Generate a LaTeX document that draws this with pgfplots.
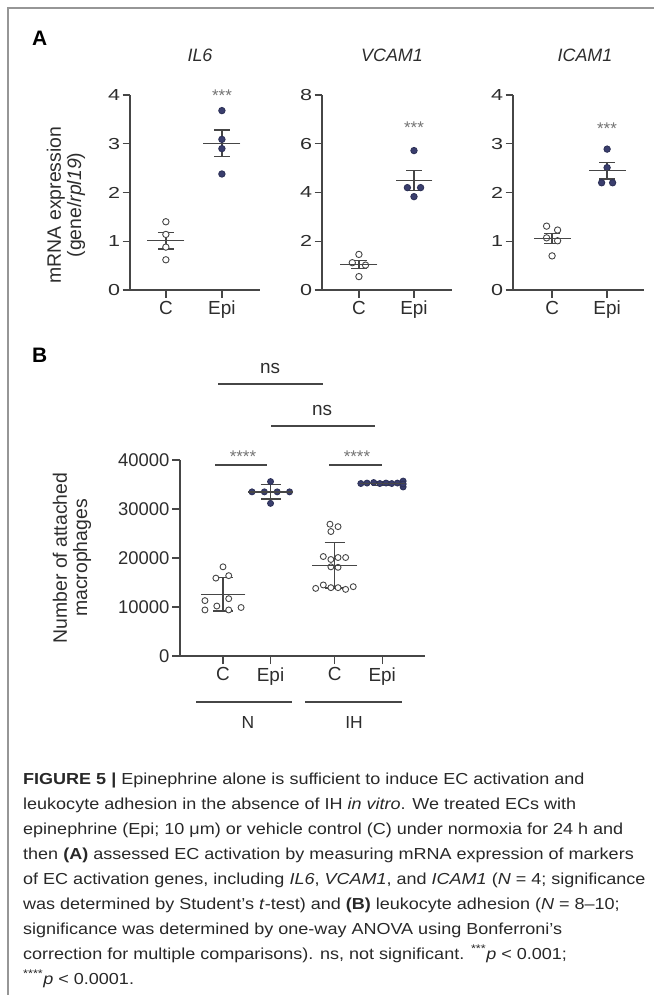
\documentclass[border=0pt]{standalone}
\usepackage{pgfplots}
\pgfplotsset{compat=1.18}
\usepackage{fontspec}
\setmainfont{Liberation Sans}
\definecolor{navy}{RGB}{58,62,110}
\definecolor{axc}{RGB}{70,70,70}
\definecolor{txtc}{RGB}{45,45,45}
\definecolor{framec}{RGB}{150,150,150}
\definecolor{capc}{RGB}{40,40,40}
\newcommand{\fs}[1]{\fontsize{#1}{#1}\selectfont}
\pgfplotsset{
  prism/.style={
    scale only axis, axis x line*=bottom, axis y line*=left,
    axis line style={axc, line width=1.3bp},
    every tick/.style={axc, line width=1.3bp},
    tick align=outside, major tick length=7.5bp,
    /pgf/number format/assume math mode=true,
    clip=false,
    yticklabel style={font=\fs{16}, text=txtc, xshift=1bp},
    yticklabel={\scalebox{1.35}[1]{\pgfmathprintnumber{\tick}}},
    xticklabel style={font=\fs{19}, text=txtc},
  },
  openpts/.style={only marks, mark=*, mark size=3.2pt, mark options={fill=white, draw=axc, line width=0.9bp}},
  fillpts/.style={only marks, mark=*, mark size=3.2pt, mark options={fill=navy, draw=navy!80!black, line width=0.9bp}},
  meanbar/.style 2 args={only marks, mark=-, mark size=#1, mark options={axc, line width=1.3bp},
    error bars/.cd, y dir=both, y explicit, error bar style={axc, line width=1.3bp},
    error mark=|, error mark options={axc, line width=1.3bp, mark size=#2}},
}
\begin{document}
\begin{tikzpicture}
\useasboundingbox (0bp,0bp) rectangle (654bp,-995bp);

% ---------- Panel A: IL6 ----------
\begin{axis}[prism, at={(130bp,-290bp)}, anchor=south west, width=130bp, height=195bp,
  xmin=-0.64, xmax=1.68, ymin=0, ymax=4, ytick={0,1,2,3,4}, xtick={0,1}, xticklabels={C,Epi}]
\addplot[openpts] coordinates {(0,1.40) (0,1.14) (0,0.88) (0,0.62)};
\addplot[fillpts] coordinates {(1,3.68) (1,3.09) (1,2.90) (1,2.38)};
\addplot[meanbar={18.5pt}{8pt}] coordinates {(0,1.01) +- (0,0.17) (1,3.01) +- (0,0.27)};
\end{axis}
% ---------- Panel A: VCAM1 ----------
\begin{axis}[prism, at={(322bp,-290bp)}, anchor=south west, width=130bp, height=195bp,
  xmin=-0.67, xmax=1.69, ymin=0, ymax=8, ytick={0,2,4,6,8}, xtick={0,1}, xticklabels={C,Epi}]
\addplot[openpts] coordinates {(0,1.46) (-0.12,1.12) (0.12,1.02) (0,0.55)};
\addplot[fillpts] coordinates {(1,5.72) (0.88,4.20) (1.12,4.20) (1,3.83)};
\addplot[meanbar={18.5pt}{8pt}] coordinates {(0,1.04) +- (0,0.17) (1,4.49) +- (0,0.41)};
\end{axis}
% ---------- Panel A: ICAM1 ----------
\begin{axis}[prism, at={(513bp,-290bp)}, anchor=south west, width=131bp, height=195bp,
  xmin=-0.71, xmax=1.67, ymin=0, ymax=4, ytick={0,1,2,3,4}, xtick={0,1}, xticklabels={C,Epi}]
\addplot[openpts] coordinates {(-0.1,1.31) (0.1,1.23) (-0.1,1.07) (0.1,1.01) (0,0.70)};
\addplot[fillpts] coordinates {(1,2.89) (1,2.51) (0.9,2.20) (1.1,2.20)};
\addplot[meanbar={18.5pt}{8pt}] coordinates {(0,1.06) +- (0,0.10) (1,2.45) +- (0,0.17)};
\end{axis}

% ---------- Panel B ----------
\begin{axis}[prism, at={(180bp,-656bp)}, anchor=south west, width=245bp, height=196bp,
  xmin=-0.905, xmax=4.25, ymin=0, ymax=40000, ytick={0,10000,20000,30000,40000},
  major tick length=8bp,
  scaled y ticks=false, yticklabel style={font=\fs{18.5}, text=txtc, /pgf/number format/1000 sep={}},
  yticklabel={\pgfmathprintnumber{\tick}},
  xticklabel style={font=\fs{19}, text=txtc},
  xtick={0,1,2.35,3.35}, xticklabels={C,Epi,C,Epi}]
\addplot[openpts, mark size=3pt] coordinates {(0,18200) (-0.15,15900) (0.12,16400) (-0.38,11300) (-0.13,10200) (0.12,11700) (-0.38,9400) (0.12,9400) (0.38,9900)};
\addplot[fillpts, mark size=3pt] coordinates {(1,35600) (0.61,33500) (0.87,33500) (1.14,33500) (1.40,33500) (1,31150)};
\addplot[openpts, mark size=3pt] coordinates {(2.25,26900) (2.42,26400) (2.27,25400)
  (2.11,20300) (2.27,19700) (2.42,20100) (2.58,20100) (2.27,18200) (2.42,18100)
  (1.95,13800) (2.11,14500) (2.27,13950) (2.42,13950) (2.58,13600) (2.74,14150)};
\addplot[fillpts, mark size=3pt] coordinates {(2.90,35200) (3.03,35300) (3.17,35400) (3.30,35200) (3.43,35300) (3.55,35200) (3.67,35300) (3.79,35700) (3.79,34500) (3.79,35100)};
\addplot[meanbar={22.5pt}{10pt}]
  coordinates {(0,12600) +- (0,3400) (1,33500) +- (0,1450) (2.35,18500) +- (0,4600) (3.35,35200) +- (0,400)};
\end{axis}

\begin{scope}[x=1bp,y=1bp]
\draw[framec, line width=1.3bp] (8,-995) -- (8,-8) -- (654,-8);
\node[anchor=base west, font=\fs{21}\bfseries, inner sep=0] at (32,-45) {A};
\node[anchor=base west, font=\fs{21}\bfseries, inner sep=0] at (32,-362) {B};

% Panel A texts
\node[rotate=90, align=center, font=\fs{19.5}, text=txtc, inner sep=0] at (66,-205)
  {mRNA expression\\[1bp](gene/\textit{rpl19})};
\foreach \x/\t in {200/IL6, 392/VCAM1, 585/ICAM1}
  \node[anchor=base, font=\fs{18}\itshape, text=txtc, inner sep=0] at (\x,-61) {\t};
\foreach \x/\y in {222/101, 414/133, 607/134}
  \node[anchor=base, font=\fs{17}, text=axc!75, inner sep=0] at (\x,-\y) {***};

% Panel B texts
\node[rotate=90, align=center, font=\fs{19.5}, text=txtc, inner sep=0] at (72,-558)
  {Number of attached\\[1bp]macrophages};
\draw[axc, line width=1.3bp] (218,-384) -- (323,-384);
\draw[axc, line width=1.3bp] (271,-426) -- (375,-426);
\draw[axc, line width=1.3bp] (215,-465) -- (267,-465);
\draw[axc, line width=1.3bp] (329,-465) -- (382,-465);
\node[anchor=base, font=\fs{19}, text=txtc, inner sep=0] at (270,-373) {ns};
\node[anchor=base, font=\fs{19}, text=txtc, inner sep=0] at (322,-415) {ns};
\node[anchor=base, font=\fs{17}, text=axc!75, inner sep=0] at (243,-462) {****};
\node[anchor=base, font=\fs{17}, text=axc!75, inner sep=0] at (357,-462) {****};
\draw[axc, line width=1.3bp] (196,-702) -- (292,-702);
\draw[axc, line width=1.3bp] (305,-702) -- (402,-702);
\node[anchor=base, font=\fs{17.5}, text=txtc, inner sep=0] at (248,-728) {N};
\node[anchor=base, font=\fs{17.5}, text=txtc, inner sep=0] at (354,-728) {IH};

% ---------- Caption ----------
\begin{scope}[every node/.style={anchor=base west, font=\fs{16}, text=capc, inner sep=0}]
\node at (23,-784) {\scalebox{1.13}[1]{\textbf{FIGURE 5 | }Epinephrine alone is sufficient to induce EC activation and}};
\node at (23,-809) {\scalebox{1.13}[1]{leukocyte adhesion in the absence of IH \textit{in vitro}. We treated ECs with}};
\node at (23,-834) {\scalebox{1.13}[1]{epinephrine (Epi; 10 μm) or vehicle control (C) under normoxia for 24 h and}};
\node at (23,-859) {\scalebox{1.13}[1]{then \textbf{(A)} assessed EC activation by measuring mRNA expression of markers}};
\node at (23,-884) {\scalebox{1.13}[1]{of EC activation genes, including \textit{IL6}, \textit{VCAM1}, and \textit{ICAM1} (\textit{N} = 4; significance}};
\node at (23,-909) {\scalebox{1.13}[1]{was determined by Student’s \textit{t}-test) and \textbf{(B)} leukocyte adhesion (\textit{N} = 8–10;}};
\node at (23,-934) {\scalebox{1.13}[1]{significance was determined by one-way ANOVA using Bonferroni’s}};
\node at (23,-959) {\scalebox{1.13}[1]{correction for multiple comparisons). ns, not significant. \textsuperscript{***}\textit{p} < 0.001;}};
\node at (23,-984) {\scalebox{1.13}[1]{\textsuperscript{****}\textit{p} < 0.0001.}};
\end{scope}
\end{scope}
\end{tikzpicture}
\end{document}
